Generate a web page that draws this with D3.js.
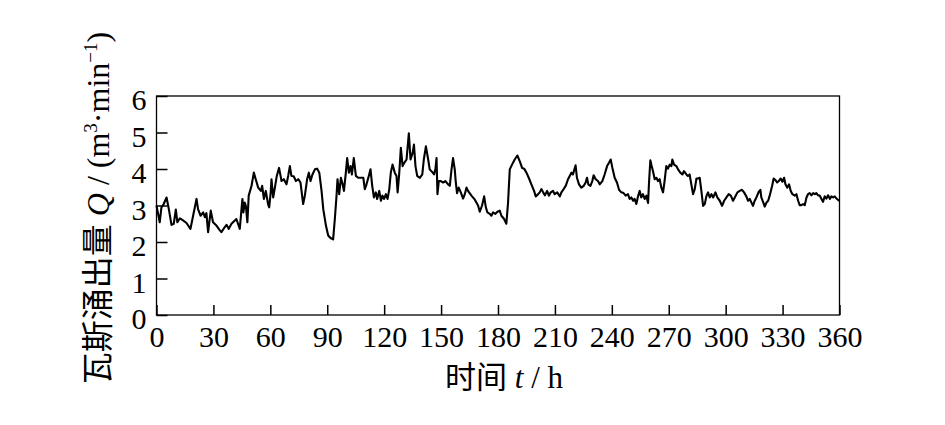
<!DOCTYPE html>
<html><head><meta charset="utf-8">
<script src="https://cdn.jsdelivr.net/npm/d3@7/dist/d3.min.js"></script>
<style>body{margin:0;background:#fff;} svg{display:block;background:#fff;}</style>
</head><body><svg id="c" width="945" height="425"></svg>
<script>
const xTicks=[0,30,60,90,120,150,180,210,240,270,300,330,360];
const yTicks=[0,1,2,3,4,5,6];
const hours=[0,1.7,2.6,3.8,5.3,6.5,7.9,9.1,10.2,11.0,12.3,14.0,15.8,17.9,19.3,21.1,21.9,23.2,24.6,25.5,26.3,27.2,28.6,29.8,31.6,33.4,34.2,36.0,36.9,38.1,39.5,41.3,42.1,43.9,44.8,45.3,45.8,46.5,47.1,47.9,48.6,50.1,51.3,52.3,53.6,55.0,55.7,56.6,57.6,58.8,59.4,60.2,60.6,61.5,62.4,63.4,64.6,65.9,67.1,68.5,69.4,70.3,71.1,
72.3,73.5,74.7,75.9,77.3,78.2,79.4,80.3,81.2,82.2,83.5,84.7,85.8,87.0,87.9,89.3,90.5,91.7,93.1,94.0,94.9,95.4,96.3,97.2,98.1,98.8,99.8,100.5,101.4,102.3,103.0,104.0,105.1,106.3,108.1,109.0,109.8,110.7,111.9,112.8,113.7,114.6,115.6,116.3,117.4,118.3,119.1,120.0,120.9,121.8,122.7,123.5,124.4,125.6,126.5,127.1,127.9,128.8,129.7,130.6,131.8,133.0,133.9,135.0,135.7,136.5,137.4,138.8,140.1,140.9,142.0,143.2,144.0,
145.3,146.3,147.0,147.6,148.1,148.8,149.8,151.1,152.3,153.7,154.6,155.5,156.3,157.2,157.7,158.4,159.3,160.4,161.6,162.5,163.4,164.2,166.0,167.8,169.5,170.4,171.6,172.7,173.6,174.4,175.7,176.5,177.4,178.6,179.7,180.9,181.8,183.2,184.4,185.3,186.2,187.4,188.8,190.2,191.5,192.7,193.8,195.0,196.2,197.6,199.0,199.9,201.1,202.0,202.9,203.8,204.7,205.9,206.8,207.8,209.0,209.9,211.2,212.6,
213.4,214.6,215.7,216.9,217.8,218.7,219.5,220.4,220.9,221.6,222.7,223.9,225.2,226.2,226.9,227.6,228.7,229.7,230.4,231.5,232.7,233.6,235.0,236.2,237.5,238.5,239.4,240.3,241.5,242.7,243.8,245.0,246.2,247.3,248.5,249.4,250.3,251.2,252.0,252.9,253.8,254.7,255.5,256.4,257.3,258.2,259.1,259.6,260.3,261.0,261.7,262.6,263.5,264.3,265.2,266.1,267.0,267.8,268.7,269.6,270.5,271.4,271.9,272.8,274.0,274.9,276.1,277.2,278.0,279.3,280.1,281.0,281.9,282.8,283.7,284.6,285.4,286.3,
287.2,288.1,289.0,289.8,290.7,291.6,292.5,293.4,294.6,295.6,296.9,298.1,299.2,300.4,301.6,302.7,303.9,304.8,306.2,307.4,308.6,309.7,310.9,311.8,312.7,313.6,314.4,315.3,316.2,317.4,318.3,318.8,319.7,320.6,321.5,322.4,323.2,324.5,325.3,326.2,327.1,328.0,329.0,329.9,330.8,331.5,332.5,333.4,334.3,335.2,336.4,337.3,338.2,339.0,339.9,340.8,341.7,342.6,343.4,344.3,345.2,346.1,347.0,347.8,348.7,349.6,350.5,351.3,352.2,353.1,354.0,354.9,355.7,356.6,357.5,358.4,359.3,360];
const flow=[3.0,2.54,2.95,3.04,3.22,2.9,2.47,2.5,2.89,2.54,2.65,2.59,2.52,2.36,2.72,3.18,2.9,2.72,2.81,2.68,2.79,2.27,2.86,2.54,2.45,2.32,2.27,2.41,2.47,2.36,2.5,2.59,2.63,2.36,2.9,3.18,2.81,3.08,2.99,2.54,3.27,3.54,3.9,3.72,3.49,3.4,3.54,3.18,3.4,3.04,2.95,3.36,3.72,3.22,3.49,3.81,4.03,3.67,3.72,3.58,3.81,4.08,3.81,
3.8,3.67,3.72,3.63,3.04,3.27,3.72,3.9,3.67,3.85,3.99,4.01,3.9,3.4,2.9,2.45,2.18,2.11,2.07,2.63,3.27,3.72,3.31,3.76,3.58,3.4,3.9,4.3,3.9,4.08,3.85,4.3,3.81,3.76,3.76,3.76,3.45,3.58,3.81,3.99,3.54,3.22,3.36,3.18,3.4,3.13,3.27,3.18,3.31,3.18,3.45,3.9,4.12,3.9,3.81,3.36,3.85,4.58,4.08,4.17,4.26,4.98,4.26,4.44,4.67,4.08,3.81,3.76,3.85,4.26,4.62,4.26,3.99,
3.92,3.85,3.99,4.3,3.31,3.67,3.67,3.63,3.67,3.58,3.54,3.99,4.3,3.99,3.67,3.34,3.49,3.36,3.19,3.31,3.49,3.4,3.27,3.16,3.0,2.83,3.0,3.25,2.95,2.81,2.77,2.72,2.81,2.77,2.83,2.86,2.72,2.63,2.5,3.08,3.99,4.12,4.26,4.37,4.21,4.03,4.01,3.9,3.76,3.58,3.4,3.25,3.31,3.36,3.45,3.36,3.28,3.4,3.27,3.36,3.4,3.31,3.36,3.25,
3.36,3.45,3.54,3.72,3.81,3.9,3.85,4.01,4.1,3.76,3.58,3.49,3.54,3.63,3.76,3.58,3.54,3.67,3.83,3.72,3.67,3.58,3.67,3.85,4.08,4.17,4.26,4.03,3.76,3.63,3.43,3.36,3.34,3.27,3.31,3.18,3.22,3.13,3.18,3.04,3.25,3.4,3.22,3.31,3.18,3.27,3.07,3.63,4.24,4.08,3.94,3.72,3.76,3.67,3.72,3.49,3.36,3.67,4.08,4.01,4.12,4.08,4.26,4.12,4.08,3.99,3.9,3.85,3.94,3.85,3.81,3.85,3.58,3.31,3.45,3.74,3.74,3.76,
3.4,2.99,3.04,3.25,3.36,3.22,3.31,3.22,3.36,3.22,3.13,2.99,3.13,3.22,3.31,3.27,3.13,3.22,3.36,3.4,3.43,3.36,3.25,3.13,3.18,3.08,2.99,3.13,3.22,3.37,3.43,3.22,3.1,2.97,3.08,3.13,3.27,3.54,3.74,3.7,3.63,3.67,3.74,3.65,3.76,3.58,3.49,3.58,3.4,3.31,3.27,3.31,3.13,3.01,3.01,3.04,3.01,3.22,3.31,3.34,3.28,3.34,3.31,3.34,3.28,3.27,3.18,3.1,3.25,3.19,3.28,3.18,3.25,3.22,3.25,3.19,3.15,3.13];

const svg=d3.select("#c");
const serif="'Liberation Serif','Times New Roman',serif";
const cjk="'Noto Sans CJK SC','Liberation Serif',serif";
const x=d3.scaleLinear().domain([0,360]).range([156.5,839.5]);
const y=d3.scaleLinear().domain([0,6]).range([315,96]);

// frame
svg.append("rect").attr("x",x(0)).attr("y",y(6)).attr("width",x(360)-x(0)).attr("height",y(0)-y(6))
  .attr("fill","none").attr("stroke","#000").attr("stroke-width",1.3);

const gx=svg.append("g").attr("transform",`translate(0,${y(0)})`)
  .call(d3.axisBottom(x).tickValues(xTicks).tickFormat(d3.format("d")).tickSizeInner(-10).tickSizeOuter(0).tickPadding(11));
const gy=svg.append("g").attr("transform",`translate(${x(0)},0)`)
  .call(d3.axisLeft(y).tickValues(yTicks).tickFormat(d3.format("d")).tickSizeInner(-11).tickSizeOuter(0).tickPadding(10));
[gx,gy].forEach(g=>{
  g.select(".domain").remove();
  g.selectAll(".tick line").attr("stroke","#000").attr("stroke-width",1.5);
  g.selectAll(".tick text").attr("fill","#000").style("font-family",serif).style("font-size","30px");
});
gy.selectAll(".tick text").attr("dy","0.45em");

const pts=hours.map((h,i)=>[h,flow[i]]);
svg.append("path").datum(pts)
  .attr("fill","none").attr("stroke","#000").attr("stroke-width",2.1).attr("stroke-linejoin","round")
  .attr("d",d3.line().x(d=>x(d[0])).y(d=>y(d[1])));

// x label
const xl=svg.append("text").attr("x",504).attr("y",388).attr("text-anchor","middle")
  .style("font-size","31px").attr("fill","#000");
xl.append("tspan").style("font-family",cjk).text("时间");
xl.append("tspan").style("font-family",serif).style("font-style","italic").text(" t");
xl.append("tspan").style("font-family",serif).text(" / h");

// y label
const yl=svg.append("text").attr("transform","translate(109,208) rotate(-90)").attr("text-anchor","middle")
  .style("font-size","32px").attr("fill","#000");
yl.append("tspan").style("font-family",cjk).text("瓦斯涌出量");
yl.append("tspan").style("font-family",serif).style("font-style","italic").text(" Q");
yl.append("tspan").style("font-family",serif).text(" / (m");
yl.append("tspan").style("font-family",serif).style("font-size","19px").attr("dy","-12").text("3");
yl.append("tspan").style("font-family",serif).attr("dy","12").text("·min");
yl.append("tspan").style("font-family",serif).style("font-size","19px").attr("dy","-12").text("−1");
yl.append("tspan").style("font-family",serif).attr("dy","12").text(")");
</script></body></html>
